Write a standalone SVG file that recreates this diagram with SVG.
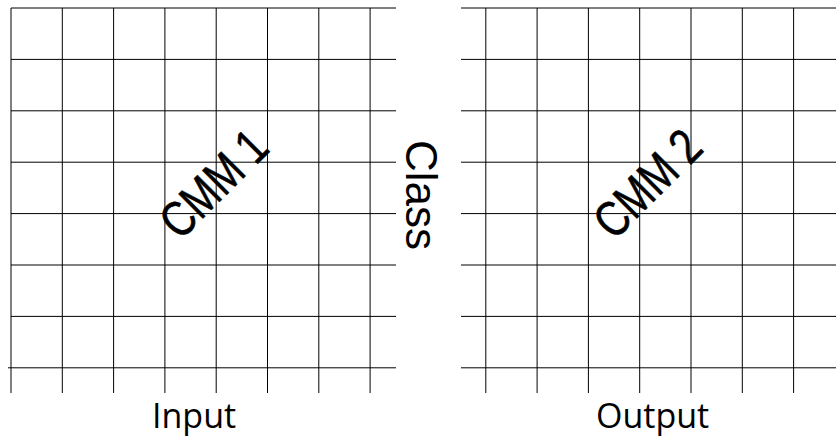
<svg xmlns="http://www.w3.org/2000/svg" width="836" height="440" viewBox="0 0 836 440">
<style>
.g line{stroke:#000;stroke-width:1}
.lbl{font-family:"Open Sans","Liberation Sans",sans-serif;font-size:34px;fill:#000}
.cmm{font-family:"Liberation Sans",Arial,sans-serif;font-size:50px;fill:#000;stroke:#000;stroke-width:0.6;text-anchor:middle}
.cls{font-family:"Liberation Sans",Arial,sans-serif;font-size:44px;fill:#000}
</style>
<rect width="836" height="440" fill="#fff"/>
<g id="cmm1">
 <g class="g">
  <line x1="11" y1="8" x2="396" y2="8"/>
  <line x1="11" y1="59.4" x2="396" y2="59.4"/>
  <line x1="11" y1="110.8" x2="396" y2="110.8"/>
  <line x1="11" y1="162.2" x2="396" y2="162.2"/>
  <line x1="11" y1="213.6" x2="396" y2="213.6"/>
  <line x1="11" y1="265" x2="396" y2="265"/>
  <line x1="11" y1="316.4" x2="396" y2="316.4"/>
  <line x1="8" y1="367.8" x2="396" y2="367.8"/>
  <line x1="11" y1="8" x2="11" y2="393"/>
  <line x1="62.3" y1="8" x2="62.3" y2="393"/>
  <line x1="113.6" y1="8" x2="113.6" y2="393"/>
  <line x1="164.9" y1="8" x2="164.9" y2="393"/>
  <line x1="216.2" y1="8" x2="216.2" y2="393"/>
  <line x1="267.5" y1="8" x2="267.5" y2="393"/>
  <line x1="318.8" y1="8" x2="318.8" y2="393"/>
  <line x1="370.1" y1="8" x2="370.1" y2="393"/>
 </g>
 <text class="cmm" transform="translate(213,183) rotate(-45) scale(0.8,1)" y="18">CMM 1</text>
 <text class="lbl" x="152" y="428">Input</text>
</g>
<g id="cmm2">
 <g class="g">
  <line x1="461" y1="8" x2="836" y2="8"/>
  <line x1="461" y1="59.4" x2="836" y2="59.4"/>
  <line x1="461" y1="110.8" x2="836" y2="110.8"/>
  <line x1="461" y1="162.2" x2="836" y2="162.2"/>
  <line x1="461" y1="213.6" x2="836" y2="213.6"/>
  <line x1="461" y1="265" x2="836" y2="265"/>
  <line x1="461" y1="316.4" x2="836" y2="316.4"/>
  <line x1="461" y1="367.8" x2="836" y2="367.8"/>
  <line x1="485.8" y1="8" x2="485.8" y2="393"/>
  <line x1="537.1" y1="8" x2="537.1" y2="393"/>
  <line x1="588.4" y1="8" x2="588.4" y2="393"/>
  <line x1="639.7" y1="8" x2="639.7" y2="393"/>
  <line x1="691" y1="8" x2="691" y2="393"/>
  <line x1="742.3" y1="8" x2="742.3" y2="393"/>
  <line x1="793.6" y1="8" x2="793.6" y2="393"/>
 </g>
 <text class="cmm" transform="translate(647,183) rotate(-45) scale(0.8,1)" y="18">CMM 2</text>
 <text class="lbl" x="596" y="428">Output</text>
</g>
<g id="class">
 <text class="cls" transform="translate(406,140) rotate(90)">Class</text>
</g>
</svg>
